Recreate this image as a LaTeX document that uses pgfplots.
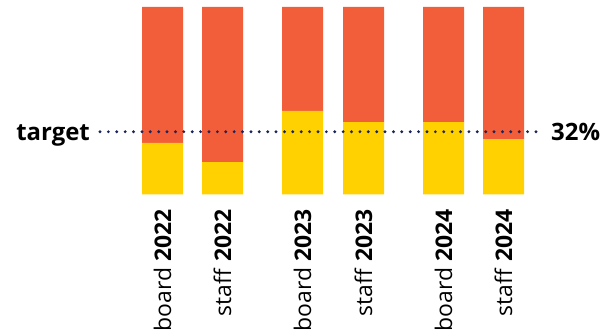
\documentclass[border=0pt]{standalone}
\usepackage{fontspec}
\setmainfont{Open Sans}
\usepackage{pgfplots}
\pgfplotsset{compat=1.18}
\definecolor{orng}{RGB}{242,93,58}
\definecolor{yell}{RGB}{255,209,0}
\definecolor{navy}{RGB}{26,35,90}
\begin{document}
\begin{tikzpicture}
\begin{axis}[
  at={(0bp,141.7bp)}, anchor=south west,
  scale only axis, width=616bp, height=187.3bp,
  xmin=0, xmax=616, ymin=0, ymax=100,
  clip=false,
  axis line style={draw=none},
  ytick=\empty,
  xtick={162.5,222.5,302.5,363.5,443.5,503.5},
  xticklabels={board \textbf{2022}, staff \textbf{2022}, board \textbf{2023}, staff \textbf{2023}, board \textbf{2024}, staff \textbf{2024}},
  major tick length=0pt,
  xticklabel style={rotate=90, anchor=east, inner xsep=15bp, font=\fontsize{23}{27}\selectfont},
  ybar stacked, bar width=41,
]
\addplot[fill=yell, draw=none] coordinates {(162.5,27.4) (222.5,17.2) (302.5,44.5) (363.5,38.6) (443.5,38.6) (503.5,29.5)};
\addplot[fill=orng, draw=none] coordinates {(162.5,72.6) (222.5,82.8) (302.5,55.5) (363.5,61.4) (443.5,61.4) (503.5,70.5)};
\end{axis}
\begin{axis}[
  at={(0bp,141.7bp)}, anchor=south west,
  scale only axis, width=616bp, height=187.3bp,
  xmin=0, xmax=616, ymin=0, ymax=100,
  clip=false, hide axis,
]
\addplot[navy, line width=3.2bp, line cap=round, dash pattern=on 0pt off 8.384bp] coordinates {(100,33.4) (536.1,33.4)};
\node[anchor=base east, inner sep=0pt, font=\bfseries\fontsize{24}{28}\selectfont] at (axis cs:90,28.6) {target};
\node[anchor=base west, inner sep=0pt, font=\bfseries\fontsize{24}{28}\selectfont] at (axis cs:551,28.6) {32\%};
\end{axis}
\pgfresetboundingbox
\useasboundingbox (0,0) rectangle (616bp,336bp);
\end{tikzpicture}
\end{document}
